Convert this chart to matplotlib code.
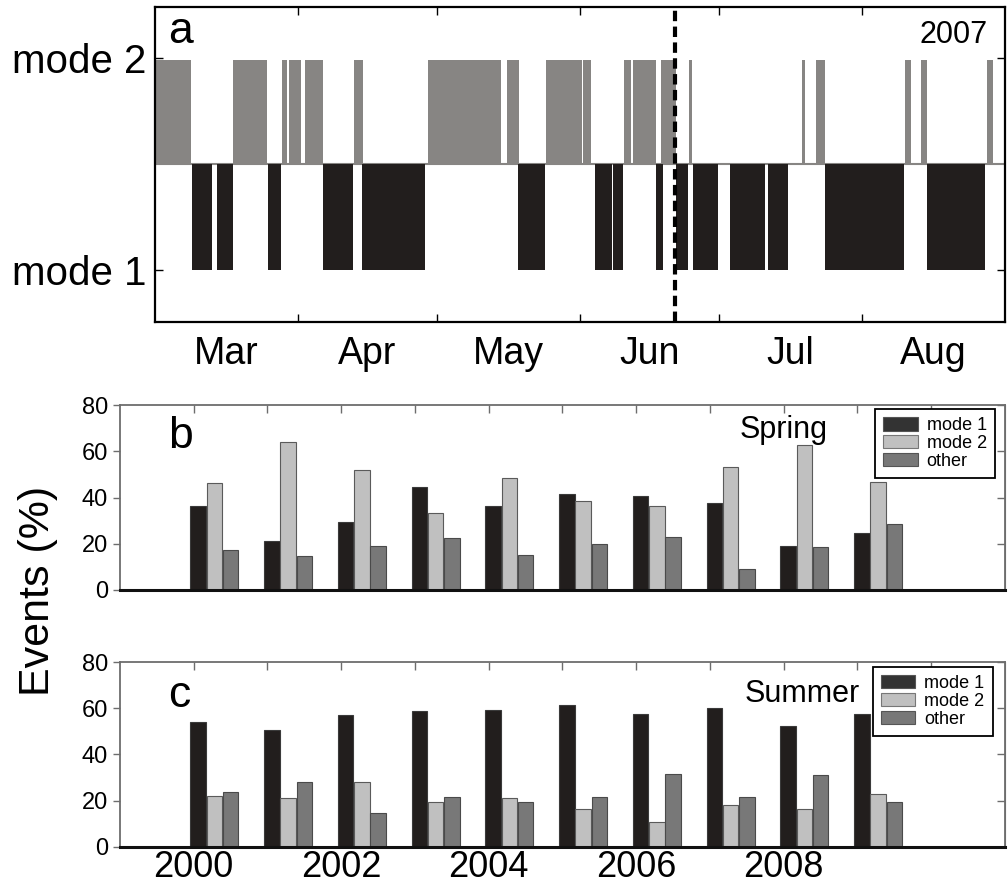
import numpy as np
import matplotlib.pyplot as plt
from matplotlib.patches import Patch

plt.rcParams['font.family'] = ['Liberation Sans', 'DejaVu Sans']

# panel a: regime periods, days since 1 March 2007
mode2_start = [0, 16.8, 27.4, 28.9, 32.4, 43.0, 59.0, 76.2, 84.7, 92.7, 101.5, 103.5,
               109.5, 115.5, 140.0, 143.0, 162.4, 165.9, 180.1]
mode2_end = [7.8, 24.2, 28.5, 31.7, 36.3, 45.1, 75.0, 78.8, 92.5, 94.4, 103.0, 108.4,
             112.7, 116.2, 140.8, 145.1, 163.7, 167.2, 181.4]
mode1_start = [8.0, 13.4, 24.4, 36.3, 44.9, 78.6, 95.2, 99.1, 108.4, 112.7, 116.4,
               124.4, 132.6, 145.0, 167.2]
mode1_end = [12.3, 16.8, 27.2, 42.8, 58.5, 84.4, 98.9, 101.3, 109.9, 115.3, 121.8,
             132.0, 137.1, 162.2, 179.7]
month_names = ['Mar', 'Apr', 'May', 'Jun', 'Jul', 'Aug']
month_starts = [0, 31, 61, 92, 122, 153, 184]
solstice = 112.5

# panels b, c: event percentages
years = np.arange(2000, 2010)
spring_m1 = [36.5, 21.2, 29.4, 44.7, 36.5, 41.4, 40.8, 37.5, 19.2, 24.5]
spring_m2 = [46.1, 64.1, 51.7, 33.1, 48.4, 38.6, 36.5, 53.2, 62.5, 46.8]
spring_ot = [17.4, 14.7, 19.2, 22.3, 15.3, 20.0, 22.9, 9.2, 18.6, 28.7]
summer_m1 = [53.9, 50.6, 57.1, 58.8, 59.2, 61.5, 57.6, 59.9, 52.2, 57.5]
summer_m2 = [22.2, 21.2, 28.2, 19.5, 21.2, 16.6, 10.8, 18.2, 16.6, 22.8]
summer_ot = [23.9, 28.2, 14.6, 21.8, 19.5, 21.8, 31.4, 21.8, 31.1, 19.5]

c_black = '#221e1d'
c_dark = '#333333'
c_light = '#c0c0c0'
c_mid = '#787878'
c_grey_a = '#878583'
c_spine = '#6d6d6d'

fig = plt.figure(figsize=(10.08, 8.88), dpi=100)

# ---- panel a
ax = fig.add_axes([0.1538, 0.6374, 0.8432, 0.3547])
s2, e2 = np.array(mode2_start), np.array(mode2_end)
s1, e1 = np.array(mode1_start), np.array(mode1_end)
ax.axhline(1.5, color=c_grey_a, lw=1.5, zorder=1)
ax.bar(s2, 0.49, width=e2 - s2, bottom=1.5, align='edge', color=c_grey_a, lw=0, zorder=2)
ax.bar(s1, -0.5, width=e1 - s1, bottom=1.5, align='edge', color=c_black, lw=0, zorder=2)
ax.axvline(solstice, color='black', lw=3, ls=(0, (2.5, 1.3)), zorder=3)
ax.set_xlim(0, 184)
ax.set_ylim(0.755, 2.24)
ax.set_yticks([1, 2])
ax.set_yticklabels(['mode 1', 'mode 2'], fontsize=29)
ax.set_xticks(month_starts[1:-1])
ax.set_xticklabels([])
mids = [(month_starts[i] + month_starts[i + 1]) / 2 for i in range(6)]
ax.set_xticks(mids, minor=True)
ax.set_xticklabels(month_names, minor=True, fontsize=27)
ax.tick_params(axis='x', which='major', direction='in', top=True, bottom=True, length=6, width=1)
ax.tick_params(axis='x', which='minor', length=0, pad=10)
ax.tick_params(axis='y', direction='in', left=True, right=True, length=6, width=1, pad=6)
for sp in ax.spines.values():
    sp.set_linewidth(1.6)
ax.text(0.015, 0.886, 'a', transform=ax.transAxes, fontsize=32, va='baseline')
ax.text(0.979, 0.886, '2007', transform=ax.transAxes, fontsize=22, ha='right', va='baseline')


def bar_panel(rect, m1, m2, ot, letter, season, season_x, season_y, letter_y, leg_xy, labels):
    ax = fig.add_axes(rect)
    w = 0.21
    ax.bar(years + 0.06, m1, w, color=c_black, edgecolor='#3a3a3a', lw=0.8, zorder=2)
    ax.bar(years + 0.28, m2, w, color=c_light, edgecolor='#5a5a5a', lw=0.8, zorder=2)
    ax.bar(years + 0.50, ot, w, color=c_mid, edgecolor='#4a4a4a', lw=0.8, zorder=2)
    ax.set_xlim(1999, 2011)
    ax.set_ylim(0, 80)
    ax.set_yticks([0, 20, 40, 60, 80])
    ax.tick_params(axis='y', direction='out', labelsize=17, length=5, width=1, color=c_spine)
    ax.set_xticks(np.arange(2000, 2011))
    if labels:
        ax.set_xticklabels([str(y) if y % 2 == 0 and y < 2010 else '' for y in range(2000, 2011)])
    else:
        ax.set_xticklabels([])
    ax.tick_params(axis='x', direction='in', top=True, bottom=False, length=6, width=1,
                   color=c_spine, labelsize=26, pad=2)
    rax = ax.secondary_yaxis('right')
    rax.set_yticks([0, 20, 40, 60, 80])
    rax.set_yticklabels([])
    rax.tick_params(direction='in', length=6, width=1, color=c_spine)
    rax.spines['right'].set_color(c_spine)
    for k in ['top', 'left', 'right']:
        ax.spines[k].set_color(c_spine)
        ax.spines[k].set_linewidth(1.3)
    ax.spines['bottom'].set_linewidth(2.2)
    ax.spines['bottom'].set_color('#111111')
    ax.text(0.054, letter_y, letter, transform=ax.transAxes, fontsize=32, va='baseline')
    ax.text(season_x, season_y, season, transform=ax.transAxes, fontsize=22, va='baseline')
    handles = [Patch(facecolor=c_dark, edgecolor='#555555', lw=0.8),
               Patch(facecolor=c_light, edgecolor='#777777', lw=0.8),
               Patch(facecolor=c_mid, edgecolor='#555555', lw=0.8)]
    leg = ax.legend(handles, ['mode 1', 'mode 2', 'other'], loc='upper right',
                    bbox_to_anchor=leg_xy, fontsize=13, fancybox=False, framealpha=1,
                    edgecolor='black', borderaxespad=0, labelspacing=0.05,
                    handlelength=1.9, handleheight=0.75, handletextpad=0.5, borderpad=0.45)
    leg.get_frame().set_linewidth(1.3)
    leg.set_zorder(5)
    return ax


bar_panel([0.119, 0.3356, 0.878, 0.2083], spring_m1, spring_m2, spring_ot, 'b', 'Spring',
          0.70, 0.822, 0.768, (0.9887, 0.978), False)
axc = bar_panel([0.119, 0.0462, 0.878, 0.2083], summer_m1, summer_m2, summer_ot, 'c', 'Summer',
                0.706, 0.784, 0.757, (0.986, 0.973), True)

fig.text(0.038, 0.335, 'Events (%)', rotation=90, fontsize=31, ha='center', va='center')

fig.savefig('out.png', dpi=100)
